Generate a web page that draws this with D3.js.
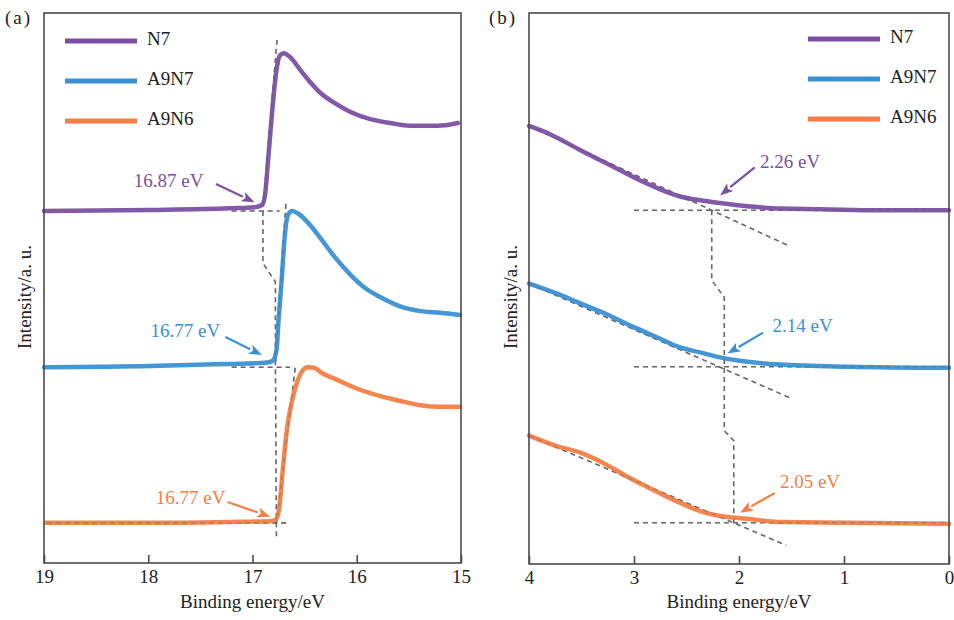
<!DOCTYPE html>
<html><head><meta charset="utf-8">
<script src="https://cdn.jsdelivr.net/npm/d3@7"></script>
<style>
html,body{margin:0;padding:0;background:#fff;}
svg text{font-family:"Liberation Serif","DejaVu Serif",serif;}
</style></head>
<body>
<svg id="c" width="954" height="620"></svg>
<script>
// ---------- DATA ----------
const seriesNames = ["N7", "A9N7", "A9N6"];
const seriesColors = ["#7b4fa4", "#3a90d3", "#f47e45"];

// Panel (a): [binding energy eV, intensity a.u.]
const a_N7 = [[19.00,64.0],[17.98,64.2],[17.22,64.5],[16.98,64.7],[16.91,65.1],[16.88,66.9],[16.85,73.3],[16.81,82.4],[16.77,89.6],[16.74,92.2],[16.70,92.7],[16.64,92.0],[16.54,89.6],[16.45,87.5],[16.35,85.5],[16.21,83.6],[16.06,82.0],[15.87,80.7],[15.68,80.0],[15.49,79.5],[15.30,79.5],[15.15,79.6],[15.03,80.0]];
const a_A9N7 = [[19.00,35.6],[17.98,35.8],[17.22,36.2],[16.88,36.4],[16.81,36.7],[16.77,38.7],[16.75,44.2],[16.72,51.5],[16.69,59.6],[16.66,63.3],[16.62,64.0],[16.56,63.5],[16.45,61.5],[16.35,59.1],[16.21,55.6],[16.06,52.4],[15.92,50.0],[15.78,48.4],[15.59,46.7],[15.39,45.8],[15.20,45.5],[15.01,45.1]];
const a_A9N6 = [[18.98,7.3],[17.98,7.3],[17.12,7.5],[16.83,7.6],[16.77,8.0],[16.74,10.5],[16.71,16.9],[16.67,24.2],[16.63,28.7],[16.58,32.4],[16.53,34.7],[16.47,35.6],[16.41,35.5],[16.33,34.5],[16.19,33.3],[15.97,31.5],[15.78,30.4],[15.59,29.5],[15.39,28.7],[15.20,28.4],[15.01,28.4]];

// Panel (b)
const b_N7 = [[4.00,79.5],[3.80,78.0],[3.51,75.1],[3.23,72.4],[2.94,69.6],[2.75,68.0],[2.56,66.7],[2.37,66.0],[2.18,65.5],[1.90,64.9],[1.61,64.5],[1.23,64.4],[0.66,64.2],[0.00,64.2]];
const b_A9N7 = [[4.00,50.9],[3.75,49.2],[3.51,47.3],[3.28,45.5],[3.04,43.3],[2.80,41.3],[2.56,39.3],[2.37,38.4],[2.18,37.5],[1.92,36.7],[1.61,36.2],[0.94,35.8],[0.00,35.6]];
const b_A9N6 = [[4.00,23.3],[3.75,21.5],[3.51,20.2],[3.28,18.2],[3.04,15.6],[2.80,13.3],[2.56,11.1],[2.37,9.6],[2.18,8.7],[1.92,8.2],[1.61,7.6],[0.94,7.5],[0.00,7.3]];

const a_ticks = [19, 18, 17, 16, 15];
const b_ticks = [4, 3, 2, 1, 0];

// Dashed construction lines (data coords)
const a_dashes = [
  [[16.765,95.1],[16.90,64.0]],                 // N7 tangent
  [[17.20,64.0],[16.74,64.0]],                  // N7 baseline
  [[16.68,65.3],[16.78,36.0]],                  // A9N7 tangent
  [[17.20,35.6],[16.64,35.6]],                  // A9N7 baseline
  [[16.59,35.5],[16.77,7.3]],                   // A9N6 tangent
  [[18.97,7.3],[16.64,7.3]],                    // A9N6 baseline
  [[16.90,64.0],[16.90,54.5],[16.78,51.1],[16.78,36.0],[16.77,4.2]] // onset connector
];
const b_dashes = [
  [[4.00,79.5],[1.52,57.7]],                    // N7 tangent
  [[3.00,64.2],[0.00,64.2]],                    // N7 baseline
  [[4.00,50.9],[1.52,30.2]],                    // A9N7 tangent
  [[3.00,35.8],[0.00,35.8]],                    // A9N7 baseline
  [[4.00,23.3],[1.55,3.4]],                     // A9N6 tangent
  [[3.00,7.5],[0.00,7.5]],                      // A9N6 baseline
  [[2.26,64.2],[2.26,51.5],[2.14,48.4],[2.14,35.8],[2.14,24.2],[2.05,22.4],[2.05,7.5]] // onset connector
];

// Annotations: label, text pos, arrow tail, arrow head
const a_labels = ["16.87 eV", "16.77 eV", "16.77 eV"];
const a_textPos = [[17.47,69.1],[17.31,41.8],[17.26,11.5]];
const a_arrowTail = [[17.35,68.9],[17.26,41.1],[17.24,11.1]];
const a_arrowHead = [[16.98,65.6],[16.91,37.8],[16.83,8.4]];
const b_labels = ["2.26 eV", "2.14 eV", "2.05 eV"];
const b_textPos = [[1.80,72.7],[1.68,42.9],[1.61,14.5]];
const b_arrowTail = [[1.85,72.0],[1.77,42.0],[1.66,12.9]];
const b_arrowHead = [[2.18,66.9],[2.11,38.2],[1.99,9.3]];

// ---------- DRAW ----------
const svg = d3.select("#c");
const FS = 19;

function panel(opt){
  const g = svg.append("g");
  const x = d3.scaleLinear().domain(opt.xDomain).range([opt.left, opt.right]);
  const y = d3.scaleLinear().domain([0,100]).range([opt.bottom, opt.top]);

  const dl = d3.line().x(d=>x(d[0])).y(d=>y(d[1]));
  opt.dashes.forEach(d=>{
    g.append("path").attr("d", dl(d)).attr("fill","none")
      .attr("stroke","#6b6b6b").attr("stroke-width",1.6).attr("stroke-dasharray","5,4");
  });

  const cl = d3.line().x(d=>x(d[0])).y(d=>y(d[1])).curve(d3.curveMonotoneX);
  opt.series.forEach((s,i)=>{
    g.append("path").attr("d", cl(s)).attr("fill","none")
      .attr("stroke", seriesColors[i]).attr("stroke-width",4.5)
      .attr("stroke-linejoin","round").attr("stroke-linecap","round").attr("opacity",0.95);
  });
  opt.dashes.forEach(d=>{
    g.append("path").attr("d", dl(d)).attr("fill","none")
      .attr("stroke","#6b6b6b").attr("stroke-width",1.2).attr("stroke-dasharray","5,4").attr("opacity",0.35);
  });

  g.append("rect").attr("x",opt.left).attr("y",opt.top)
    .attr("width",opt.right-opt.left).attr("height",opt.bottom-opt.top)
    .attr("fill","none").attr("stroke","#4a4a4a").attr("stroke-width",1.6);

  const ax = d3.axisBottom(x).tickValues(opt.ticks).tickSize(-8).tickPadding(7).tickFormat(d3.format("d"));
  const axg = g.append("g").attr("transform",`translate(0,${opt.bottom})`).call(ax);
  axg.select(".domain").remove();
  axg.selectAll(".tick line").attr("stroke","#4a4a4a").attr("stroke-width",1.6);
  axg.selectAll(".tick text").attr("font-size",FS).attr("fill","#222")
    .attr("font-family","Liberation Serif, serif");

  g.append("text").attr("x",(opt.left+opt.right)/2).attr("y",608)
    .attr("text-anchor","middle").attr("font-size",FS).attr("fill","#222").text("Binding energy/eV");
  g.append("text").attr("transform",`translate(${opt.yTitleX},297) rotate(-90)`)
    .attr("text-anchor","middle").attr("dominant-baseline","middle")
    .attr("font-size",FS).attr("fill","#222").text("Intensity/a. u.");

  g.append("text").attr("x",opt.tagX).attr("y",24).attr("font-size",FS).attr("fill","#222")
    .attr("letter-spacing",2).text(opt.tag);

  seriesNames.forEach((n,i)=>{
    const ly = opt.legY + i*40;
    g.append("line").attr("x1",opt.legX).attr("x2",opt.legX+72).attr("y1",ly).attr("y2",ly)
      .attr("stroke",seriesColors[i]).attr("stroke-width",5);
    g.append("text").attr("x",opt.legX+82).attr("y",ly).attr("dominant-baseline","middle")
      .attr("font-size",FS).attr("fill","#222").text(n);
  });

  opt.labels.forEach((t,i)=>{
    g.append("text").attr("x",x(opt.textPos[i][0])).attr("y",y(opt.textPos[i][1]))
      .attr("text-anchor",opt.anchor).attr("dominant-baseline","middle")
      .attr("font-size",FS).attr("fill",seriesColors[i]).text(t);
    const x1=x(opt.tail[i][0]), y1=y(opt.tail[i][1]), x2=x(opt.head[i][0]), y2=y(opt.head[i][1]);
    const ang=Math.atan2(y2-y1,x2-x1), L=13, W=5;
    const bx=x2-L*Math.cos(ang), by=y2-L*Math.sin(ang);
    g.append("line").attr("x1",x1).attr("y1",y1).attr("x2",bx).attr("y2",by)
      .attr("stroke",seriesColors[i]).attr("stroke-width",2.2);
    const p=[[x2,y2],[bx+W*Math.sin(ang),by-W*Math.cos(ang)],[bx+3*Math.cos(ang),by+3*Math.sin(ang)],[bx-W*Math.sin(ang),by+W*Math.cos(ang)]];
    g.append("path").attr("d","M"+p.map(q=>q.join(",")).join("L")+"Z").attr("fill",seriesColors[i]);
  });
}

panel({xDomain:[19,15], left:44, right:461, top:13, bottom:563, ticks:a_ticks,
  series:[a_N7,a_A9N7,a_A9N6], dashes:a_dashes, yTitleX:27, tag:"(a)", tagX:5,
  legX:65, legY:41, labels:a_labels, textPos:a_textPos, tail:a_arrowTail, head:a_arrowHead, anchor:"end"});
panel({xDomain:[4,0], left:529, right:949, top:13, bottom:564, ticks:b_ticks,
  series:[b_N7,b_A9N7,b_A9N6], dashes:b_dashes, yTitleX:513, tag:"(b)", tagX:489,
  legX:808, legY:39, labels:b_labels, textPos:b_textPos, tail:b_arrowTail, head:b_arrowHead, anchor:"start"});
</script>
</body></html>
